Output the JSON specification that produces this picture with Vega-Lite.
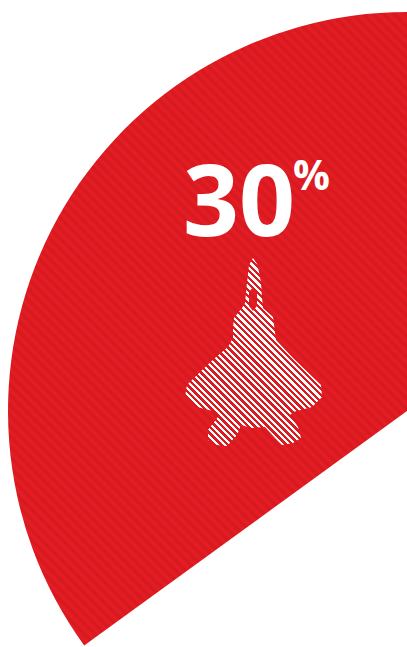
{"$schema":"https://vega.github.io/schema/vega-lite/v6.json","width":407,"height":647,"padding":0,"autosize":"none","background":"white","view":{"stroke":null},"data":{"values":[{"share":35,"figure":"30","unit":"%"}]},"layer":[
{"mark":{"type":"arc","x":407,"y":411,"radius":399,"fill":{"gradient":"linear","x1":0.133,"y1":1.084,"x2":0.867,"y2":-0.084,"stops":[
{"offset":0,"color":"#e61d24"},{"offset":0.005,"color":"#d5191f"},{"offset":0.01,"color":"#e61d24"},{"offset":0.015,"color":"#d5191f"},{"offset":0.02,"color":"#e61d24"},{"offset":0.025,"color":"#d5191f"},{"offset":0.03,"color":"#e61d24"},{"offset":0.035,"color":"#d5191f"},{"offset":0.04,"color":"#e61d24"},{"offset":0.045,"color":"#d5191f"},
{"offset":0.05,"color":"#e61d24"},{"offset":0.055,"color":"#d5191f"},{"offset":0.06,"color":"#e61d24"},{"offset":0.065,"color":"#d5191f"},{"offset":0.07,"color":"#e61d24"},{"offset":0.075,"color":"#d5191f"},{"offset":0.08,"color":"#e61d24"},{"offset":0.085,"color":"#d5191f"},{"offset":0.09,"color":"#e61d24"},{"offset":0.095,"color":"#d5191f"},
{"offset":0.1,"color":"#e61d24"},{"offset":0.105,"color":"#d5191f"},{"offset":0.11,"color":"#e61d24"},{"offset":0.115,"color":"#d5191f"},{"offset":0.12,"color":"#e61d24"},{"offset":0.125,"color":"#d5191f"},{"offset":0.13,"color":"#e61d24"},{"offset":0.135,"color":"#d5191f"},{"offset":0.14,"color":"#e61d24"},{"offset":0.145,"color":"#d5191f"},
{"offset":0.15,"color":"#e61d24"},{"offset":0.155,"color":"#d5191f"},{"offset":0.16,"color":"#e61d24"},{"offset":0.165,"color":"#d5191f"},{"offset":0.17,"color":"#e61d24"},{"offset":0.175,"color":"#d5191f"},{"offset":0.18,"color":"#e61d24"},{"offset":0.185,"color":"#d5191f"},{"offset":0.19,"color":"#e61d24"},{"offset":0.195,"color":"#d5191f"},
{"offset":0.2,"color":"#e61d24"},{"offset":0.205,"color":"#d5191f"},{"offset":0.21,"color":"#e61d24"},{"offset":0.215,"color":"#d5191f"},{"offset":0.22,"color":"#e61d24"},{"offset":0.225,"color":"#d5191f"},{"offset":0.23,"color":"#e61d24"},{"offset":0.235,"color":"#d5191f"},{"offset":0.24,"color":"#e61d24"},{"offset":0.245,"color":"#d5191f"},
{"offset":0.25,"color":"#e61d24"},{"offset":0.255,"color":"#d5191f"},{"offset":0.26,"color":"#e61d24"},{"offset":0.265,"color":"#d5191f"},{"offset":0.27,"color":"#e61d24"},{"offset":0.275,"color":"#d5191f"},{"offset":0.28,"color":"#e61d24"},{"offset":0.285,"color":"#d5191f"},{"offset":0.29,"color":"#e61d24"},{"offset":0.295,"color":"#d5191f"},
{"offset":0.3,"color":"#e61d24"},{"offset":0.305,"color":"#d5191f"},{"offset":0.31,"color":"#e61d24"},{"offset":0.315,"color":"#d5191f"},{"offset":0.32,"color":"#e61d24"},{"offset":0.325,"color":"#d5191f"},{"offset":0.33,"color":"#e61d24"},{"offset":0.335,"color":"#d5191f"},{"offset":0.34,"color":"#e61d24"},{"offset":0.345,"color":"#d5191f"},
{"offset":0.35,"color":"#e61d24"},{"offset":0.355,"color":"#d5191f"},{"offset":0.36,"color":"#e61d24"},{"offset":0.365,"color":"#d5191f"},{"offset":0.37,"color":"#e61d24"},{"offset":0.375,"color":"#d5191f"},{"offset":0.38,"color":"#e61d24"},{"offset":0.385,"color":"#d5191f"},{"offset":0.39,"color":"#e61d24"},{"offset":0.395,"color":"#d5191f"},
{"offset":0.4,"color":"#e61d24"},{"offset":0.405,"color":"#d5191f"},{"offset":0.41,"color":"#e61d24"},{"offset":0.415,"color":"#d5191f"},{"offset":0.42,"color":"#e61d24"},{"offset":0.425,"color":"#d5191f"},{"offset":0.43,"color":"#e61d24"},{"offset":0.435,"color":"#d5191f"},{"offset":0.44,"color":"#e61d24"},{"offset":0.445,"color":"#d5191f"},
{"offset":0.45,"color":"#e61d24"},{"offset":0.455,"color":"#d5191f"},{"offset":0.46,"color":"#e61d24"},{"offset":0.465,"color":"#d5191f"},{"offset":0.47,"color":"#e61d24"},{"offset":0.475,"color":"#d5191f"},{"offset":0.48,"color":"#e61d24"},{"offset":0.485,"color":"#d5191f"},{"offset":0.49,"color":"#e61d24"},{"offset":0.495,"color":"#d5191f"},
{"offset":0.5,"color":"#e61d24"},{"offset":0.505,"color":"#d5191f"},{"offset":0.51,"color":"#e61d24"},{"offset":0.515,"color":"#d5191f"},{"offset":0.52,"color":"#e61d24"},{"offset":0.525,"color":"#d5191f"},{"offset":0.53,"color":"#e61d24"},{"offset":0.535,"color":"#d5191f"},{"offset":0.54,"color":"#e61d24"},{"offset":0.545,"color":"#d5191f"},
{"offset":0.55,"color":"#e61d24"},{"offset":0.555,"color":"#d5191f"},{"offset":0.56,"color":"#e61d24"},{"offset":0.565,"color":"#d5191f"},{"offset":0.57,"color":"#e61d24"},{"offset":0.575,"color":"#d5191f"},{"offset":0.58,"color":"#e61d24"},{"offset":0.585,"color":"#d5191f"},{"offset":0.59,"color":"#e61d24"},{"offset":0.595,"color":"#d5191f"},
{"offset":0.6,"color":"#e61d24"},{"offset":0.605,"color":"#d5191f"},{"offset":0.61,"color":"#e61d24"},{"offset":0.615,"color":"#d5191f"},{"offset":0.62,"color":"#e61d24"},{"offset":0.625,"color":"#d5191f"},{"offset":0.63,"color":"#e61d24"},{"offset":0.635,"color":"#d5191f"},{"offset":0.64,"color":"#e61d24"},{"offset":0.645,"color":"#d5191f"},
{"offset":0.65,"color":"#e61d24"},{"offset":0.655,"color":"#d5191f"},{"offset":0.66,"color":"#e61d24"},{"offset":0.665,"color":"#d5191f"},{"offset":0.67,"color":"#e61d24"},{"offset":0.675,"color":"#d5191f"},{"offset":0.68,"color":"#e61d24"},{"offset":0.685,"color":"#d5191f"},{"offset":0.69,"color":"#e61d24"},{"offset":0.695,"color":"#d5191f"},
{"offset":0.7,"color":"#e61d24"},{"offset":0.705,"color":"#d5191f"},{"offset":0.71,"color":"#e61d24"},{"offset":0.715,"color":"#d5191f"},{"offset":0.72,"color":"#e61d24"},{"offset":0.725,"color":"#d5191f"},{"offset":0.73,"color":"#e61d24"},{"offset":0.735,"color":"#d5191f"},{"offset":0.74,"color":"#e61d24"},{"offset":0.745,"color":"#d5191f"},
{"offset":0.75,"color":"#e61d24"},{"offset":0.755,"color":"#d5191f"},{"offset":0.76,"color":"#e61d24"},{"offset":0.765,"color":"#d5191f"},{"offset":0.77,"color":"#e61d24"},{"offset":0.775,"color":"#d5191f"},{"offset":0.78,"color":"#e61d24"},{"offset":0.785,"color":"#d5191f"},{"offset":0.79,"color":"#e61d24"},{"offset":0.795,"color":"#d5191f"},
{"offset":0.8,"color":"#e61d24"},{"offset":0.805,"color":"#d5191f"},{"offset":0.81,"color":"#e61d24"},{"offset":0.815,"color":"#d5191f"},{"offset":0.82,"color":"#e61d24"},{"offset":0.825,"color":"#d5191f"},{"offset":0.83,"color":"#e61d24"},{"offset":0.835,"color":"#d5191f"},{"offset":0.84,"color":"#e61d24"},{"offset":0.845,"color":"#d5191f"},
{"offset":0.85,"color":"#e61d24"},{"offset":0.855,"color":"#d5191f"},{"offset":0.86,"color":"#e61d24"},{"offset":0.865,"color":"#d5191f"},{"offset":0.87,"color":"#e61d24"},{"offset":0.875,"color":"#d5191f"},{"offset":0.88,"color":"#e61d24"},{"offset":0.885,"color":"#d5191f"},{"offset":0.89,"color":"#e61d24"},{"offset":0.895,"color":"#d5191f"},
{"offset":0.9,"color":"#e61d24"},{"offset":0.905,"color":"#d5191f"},{"offset":0.91,"color":"#e61d24"},{"offset":0.915,"color":"#d5191f"},{"offset":0.92,"color":"#e61d24"},{"offset":0.925,"color":"#d5191f"},{"offset":0.93,"color":"#e61d24"},{"offset":0.935,"color":"#d5191f"},{"offset":0.94,"color":"#e61d24"},{"offset":0.945,"color":"#d5191f"},
{"offset":0.95,"color":"#e61d24"},{"offset":0.955,"color":"#d5191f"},{"offset":0.96,"color":"#e61d24"},{"offset":0.965,"color":"#d5191f"},{"offset":0.97,"color":"#e61d24"},{"offset":0.975,"color":"#d5191f"},{"offset":0.98,"color":"#e61d24"},{"offset":0.985,"color":"#d5191f"},{"offset":0.99,"color":"#e61d24"},{"offset":1,"color":"#d5191f"}
]}},"encoding":{"theta":{"field":"share","type":"quantitative","scale":{"domain":[0,100],"range":[6.2832,0]}}}},
{"mark":{"type":"point","x":0,"y":0,"size":4,"filled":true,"opacity":1,"strokeWidth":0,"shape":"M253 258L257 264L259 272L261 283L262 298L263 308L273 317L275 333L276 340L293 358L321 385L322 397L312 407L293 412L290 415L298 427L301 438L293 443L282 445L275 438L265 427L252 428L241 425L237 435L227 446L217 445L208 440L208 430L218 417L217 412L197 407L185 397L187 385L200 372L215 358L228 347L233 338L233 328L234 318L242 308L245 303L247 283L249 265ZM253 287L249 292L249 306L253 311L257 306L257 292Z","fill":{"gradient":"linear","x1":0.089,"y1":1.064,"x2":0.911,"y2":-0.064,"stops":[
{"offset":0,"color":"#fff"},{"offset":0.01,"color":"#fff"},{"offset":0.01,"color":"#dc1b21"},{"offset":0.02,"color":"#dc1b21"},{"offset":0.02,"color":"#fff"},{"offset":0.03,"color":"#fff"},{"offset":0.03,"color":"#dc1b21"},{"offset":0.04,"color":"#dc1b21"},{"offset":0.04,"color":"#fff"},{"offset":0.05,"color":"#fff"},{"offset":0.05,"color":"#dc1b21"},{"offset":0.06,"color":"#dc1b21"},{"offset":0.06,"color":"#fff"},{"offset":0.07,"color":"#fff"},{"offset":0.07,"color":"#dc1b21"},{"offset":0.08,"color":"#dc1b21"},{"offset":0.08,"color":"#fff"},{"offset":0.09,"color":"#fff"},{"offset":0.09,"color":"#dc1b21"},{"offset":0.1,"color":"#dc1b21"},
{"offset":0.1,"color":"#fff"},{"offset":0.11,"color":"#fff"},{"offset":0.11,"color":"#dc1b21"},{"offset":0.12,"color":"#dc1b21"},{"offset":0.12,"color":"#fff"},{"offset":0.13,"color":"#fff"},{"offset":0.13,"color":"#dc1b21"},{"offset":0.14,"color":"#dc1b21"},{"offset":0.14,"color":"#fff"},{"offset":0.15,"color":"#fff"},{"offset":0.15,"color":"#dc1b21"},{"offset":0.16,"color":"#dc1b21"},{"offset":0.16,"color":"#fff"},{"offset":0.17,"color":"#fff"},{"offset":0.17,"color":"#dc1b21"},{"offset":0.18,"color":"#dc1b21"},{"offset":0.18,"color":"#fff"},{"offset":0.19,"color":"#fff"},{"offset":0.19,"color":"#dc1b21"},{"offset":0.2,"color":"#dc1b21"},
{"offset":0.2,"color":"#fff"},{"offset":0.21,"color":"#fff"},{"offset":0.21,"color":"#dc1b21"},{"offset":0.22,"color":"#dc1b21"},{"offset":0.22,"color":"#fff"},{"offset":0.23,"color":"#fff"},{"offset":0.23,"color":"#dc1b21"},{"offset":0.24,"color":"#dc1b21"},{"offset":0.24,"color":"#fff"},{"offset":0.25,"color":"#fff"},{"offset":0.25,"color":"#dc1b21"},{"offset":0.26,"color":"#dc1b21"},{"offset":0.26,"color":"#fff"},{"offset":0.27,"color":"#fff"},{"offset":0.27,"color":"#dc1b21"},{"offset":0.28,"color":"#dc1b21"},{"offset":0.28,"color":"#fff"},{"offset":0.29,"color":"#fff"},{"offset":0.29,"color":"#dc1b21"},{"offset":0.3,"color":"#dc1b21"},
{"offset":0.3,"color":"#fff"},{"offset":0.31,"color":"#fff"},{"offset":0.31,"color":"#dc1b21"},{"offset":0.32,"color":"#dc1b21"},{"offset":0.32,"color":"#fff"},{"offset":0.33,"color":"#fff"},{"offset":0.33,"color":"#dc1b21"},{"offset":0.34,"color":"#dc1b21"},{"offset":0.34,"color":"#fff"},{"offset":0.35,"color":"#fff"},{"offset":0.35,"color":"#dc1b21"},{"offset":0.36,"color":"#dc1b21"},{"offset":0.36,"color":"#fff"},{"offset":0.37,"color":"#fff"},{"offset":0.37,"color":"#dc1b21"},{"offset":0.38,"color":"#dc1b21"},{"offset":0.38,"color":"#fff"},{"offset":0.39,"color":"#fff"},{"offset":0.39,"color":"#dc1b21"},{"offset":0.4,"color":"#dc1b21"},
{"offset":0.4,"color":"#fff"},{"offset":0.41,"color":"#fff"},{"offset":0.41,"color":"#dc1b21"},{"offset":0.42,"color":"#dc1b21"},{"offset":0.42,"color":"#fff"},{"offset":0.43,"color":"#fff"},{"offset":0.43,"color":"#dc1b21"},{"offset":0.44,"color":"#dc1b21"},{"offset":0.44,"color":"#fff"},{"offset":0.45,"color":"#fff"},{"offset":0.45,"color":"#dc1b21"},{"offset":0.46,"color":"#dc1b21"},{"offset":0.46,"color":"#fff"},{"offset":0.47,"color":"#fff"},{"offset":0.47,"color":"#dc1b21"},{"offset":0.48,"color":"#dc1b21"},{"offset":0.48,"color":"#fff"},{"offset":0.49,"color":"#fff"},{"offset":0.49,"color":"#dc1b21"},{"offset":0.5,"color":"#dc1b21"},
{"offset":0.5,"color":"#fff"},{"offset":0.51,"color":"#fff"},{"offset":0.51,"color":"#dc1b21"},{"offset":0.52,"color":"#dc1b21"},{"offset":0.52,"color":"#fff"},{"offset":0.53,"color":"#fff"},{"offset":0.53,"color":"#dc1b21"},{"offset":0.54,"color":"#dc1b21"},{"offset":0.54,"color":"#fff"},{"offset":0.55,"color":"#fff"},{"offset":0.55,"color":"#dc1b21"},{"offset":0.56,"color":"#dc1b21"},{"offset":0.56,"color":"#fff"},{"offset":0.57,"color":"#fff"},{"offset":0.57,"color":"#dc1b21"},{"offset":0.58,"color":"#dc1b21"},{"offset":0.58,"color":"#fff"},{"offset":0.59,"color":"#fff"},{"offset":0.59,"color":"#dc1b21"},{"offset":0.6,"color":"#dc1b21"},
{"offset":0.6,"color":"#fff"},{"offset":0.61,"color":"#fff"},{"offset":0.61,"color":"#dc1b21"},{"offset":0.62,"color":"#dc1b21"},{"offset":0.62,"color":"#fff"},{"offset":0.63,"color":"#fff"},{"offset":0.63,"color":"#dc1b21"},{"offset":0.64,"color":"#dc1b21"},{"offset":0.64,"color":"#fff"},{"offset":0.65,"color":"#fff"},{"offset":0.65,"color":"#dc1b21"},{"offset":0.66,"color":"#dc1b21"},{"offset":0.66,"color":"#fff"},{"offset":0.67,"color":"#fff"},{"offset":0.67,"color":"#dc1b21"},{"offset":0.68,"color":"#dc1b21"},{"offset":0.68,"color":"#fff"},{"offset":0.69,"color":"#fff"},{"offset":0.69,"color":"#dc1b21"},{"offset":0.7,"color":"#dc1b21"},
{"offset":0.7,"color":"#fff"},{"offset":0.71,"color":"#fff"},{"offset":0.71,"color":"#dc1b21"},{"offset":0.72,"color":"#dc1b21"},{"offset":0.72,"color":"#fff"},{"offset":0.73,"color":"#fff"},{"offset":0.73,"color":"#dc1b21"},{"offset":0.74,"color":"#dc1b21"},{"offset":0.74,"color":"#fff"},{"offset":0.75,"color":"#fff"},{"offset":0.75,"color":"#dc1b21"},{"offset":0.76,"color":"#dc1b21"},{"offset":0.76,"color":"#fff"},{"offset":0.77,"color":"#fff"},{"offset":0.77,"color":"#dc1b21"},{"offset":0.78,"color":"#dc1b21"},{"offset":0.78,"color":"#fff"},{"offset":0.79,"color":"#fff"},{"offset":0.79,"color":"#dc1b21"},{"offset":0.8,"color":"#dc1b21"},
{"offset":0.8,"color":"#fff"},{"offset":0.81,"color":"#fff"},{"offset":0.81,"color":"#dc1b21"},{"offset":0.82,"color":"#dc1b21"},{"offset":0.82,"color":"#fff"},{"offset":0.83,"color":"#fff"},{"offset":0.83,"color":"#dc1b21"},{"offset":0.84,"color":"#dc1b21"},{"offset":0.84,"color":"#fff"},{"offset":0.85,"color":"#fff"},{"offset":0.85,"color":"#dc1b21"},{"offset":0.86,"color":"#dc1b21"},{"offset":0.86,"color":"#fff"},{"offset":0.87,"color":"#fff"},{"offset":0.87,"color":"#dc1b21"},{"offset":0.88,"color":"#dc1b21"},{"offset":0.88,"color":"#fff"},{"offset":0.89,"color":"#fff"},{"offset":0.89,"color":"#dc1b21"},{"offset":0.9,"color":"#dc1b21"},
{"offset":0.9,"color":"#fff"},{"offset":0.91,"color":"#fff"},{"offset":0.91,"color":"#dc1b21"},{"offset":0.92,"color":"#dc1b21"},{"offset":0.92,"color":"#fff"},{"offset":0.93,"color":"#fff"},{"offset":0.93,"color":"#dc1b21"},{"offset":0.94,"color":"#dc1b21"},{"offset":0.94,"color":"#fff"},{"offset":0.95,"color":"#fff"},{"offset":0.95,"color":"#dc1b21"},{"offset":0.96,"color":"#dc1b21"},{"offset":0.96,"color":"#fff"},{"offset":0.97,"color":"#fff"},{"offset":0.97,"color":"#dc1b21"},{"offset":0.98,"color":"#dc1b21"},{"offset":0.98,"color":"#fff"},{"offset":0.99,"color":"#fff"},{"offset":0.99,"color":"#dc1b21"},{"offset":1,"color":"#dc1b21"}
]}},"encoding":{}},
{"mark":{"type":"text","x":183,"y":236,"align":"left","baseline":"alphabetic","font":"Open Sans","fontWeight":"bold","fontSize":98,"fill":"white"},"encoding":{"text":{"field":"figure"}}},
{"mark":{"type":"text","x":293,"y":190,"align":"left","baseline":"alphabetic","font":"Open Sans","fontWeight":"bold","fontSize":41,"fill":"white"},"encoding":{"text":{"field":"unit"}}}
]}
